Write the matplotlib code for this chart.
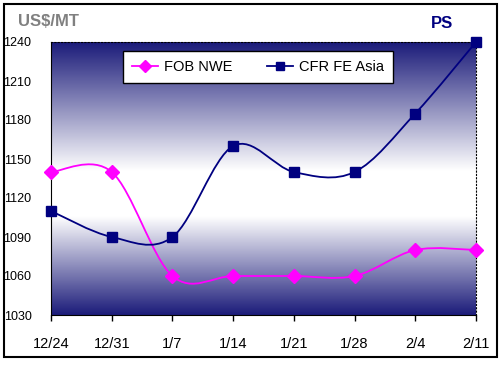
import numpy as np
import matplotlib
matplotlib.use("Agg")
import matplotlib.pyplot as plt
from matplotlib.path import Path
from matplotlib.patches import PathPatch, Rectangle
from matplotlib.colors import LinearSegmentedColormap
from matplotlib.lines import Line2D

plt.rcParams['font.family'] = ['Liberation Sans', 'DejaVu Sans']

dates = ["12/24", "12/31", "1/7", "1/14", "1/21", "1/28", "2/4", "2/11"]
fob_nwe = [1140, 1140, 1060, 1060, 1060, 1060, 1080, 1080]
cfr_fe_asia = [1110, 1090, 1090, 1160, 1140, 1140, 1185, 1240]
yticks = [1030, 1060, 1090, 1120, 1150, 1180, 1210, 1240]

NAVY = "#000080"
MAGENTA = "#FF00FF"


def smooth_path(xs, ys):
    # Excel-style smoothed line: cubic bezier segments with catmull-rom handles
    pts = np.column_stack([xs, ys]).astype(float)
    n = len(pts)
    verts = [pts[0]]
    codes = [Path.MOVETO]
    for i in range(n - 1):
        p0 = pts[max(i - 1, 0)]
        p1 = pts[i]
        p2 = pts[i + 1]
        p3 = pts[min(i + 2, n - 1)]
        c1 = p1 + (p2 - p0) / 6.0
        c2 = p2 - (p3 - p1) / 6.0
        verts += [c1, c2, p2]
        codes += [Path.CURVE4] * 3
    return Path(verts, codes)


fig = plt.figure(figsize=(5.01, 3.65), dpi=100)
ax = fig.add_axes([51 / 501, 50 / 365, 425 / 501, 273 / 365])

x = np.arange(len(dates))
ax.set_xlim(0, len(dates) - 1)
ax.set_ylim(1030, 1240)

# background gradient navy -> white -> navy
cmap = LinearSegmentedColormap.from_list(
    "bg", [(0.0, "#1c1c7a"), (0.36, "#ffffff"), (0.53, "#ffffff"), (1.0, "#1c1c7a")])
grad = np.linspace(0, 1, 256).reshape(-1, 1)
ax.imshow(grad, cmap=cmap, origin="lower", aspect="auto",
          extent=(0, len(dates) - 1, 1030, 1240), zorder=0)

for vals, col in [(fob_nwe, MAGENTA), (cfr_fe_asia, NAVY)]:
    ax.add_patch(PathPatch(smooth_path(x, vals), facecolor="none",
                           edgecolor=col, lw=1.3, zorder=2, clip_on=False))

ax.plot(x, fob_nwe, ls="none", marker="D", ms=7, color=MAGENTA, zorder=3, clip_on=False)
ax.plot(x, cfr_fe_asia, ls="none", marker="s", ms=7.5, color=NAVY, zorder=3, clip_on=False)

ax.set_xticks(x)
ax.set_xticklabels(dates, fontsize=10.5)
ax.set_yticks(yticks)
ax.set_yticklabels([str(v) for v in yticks], fontsize=9)
ax.tick_params(axis="x", length=4, width=1, pad=12, direction="out")
ax.tick_params(axis="y", length=0, pad=14)

ax.spines["left"].set_color("black")
ax.spines["bottom"].set_color("black")
ax.spines["top"].set_linestyle((0, (1, 2)))
ax.spines["right"].set_linestyle((0, (1, 2)))
ax.spines["top"].set_linewidth(0.8)
ax.spines["right"].set_linewidth(0.8)

handles = [
    Line2D([], [], color=MAGENTA, marker="D", ms=6, lw=1.3),
    Line2D([], [], color=NAVY, marker="s", ms=6, lw=1.3),
]
leg = ax.legend(handles, ["FOB NWE", "CFR FE Asia"], ncol=2, loc="center",
                bbox_to_anchor=(0.487, 0.908), fontsize=10.5, frameon=True,
                fancybox=False, framealpha=1, edgecolor="black",
                handlelength=1.8, handletextpad=0.4, columnspacing=2.4,
                borderpad=0.6, borderaxespad=0)
leg.get_frame().set_linewidth(1)

fig.text(18 / 501, 1 - 22 / 365, "US$/MT", color="#808080", fontsize=12,
         fontweight="bold", va="center", ha="left")
fig.text(442 / 501, 1 - 24 / 365, "PS", color=NAVY, fontsize=12,
         fontweight="bold", va="center", ha="center")

fig.patches.append(Rectangle((4 / 501, 1 - 357 / 365), 493 / 501, 353 / 365,
                             transform=fig.transFigure, fill=False,
                             edgecolor="black", lw=1.5))

fig.savefig("out.png", dpi=100)
